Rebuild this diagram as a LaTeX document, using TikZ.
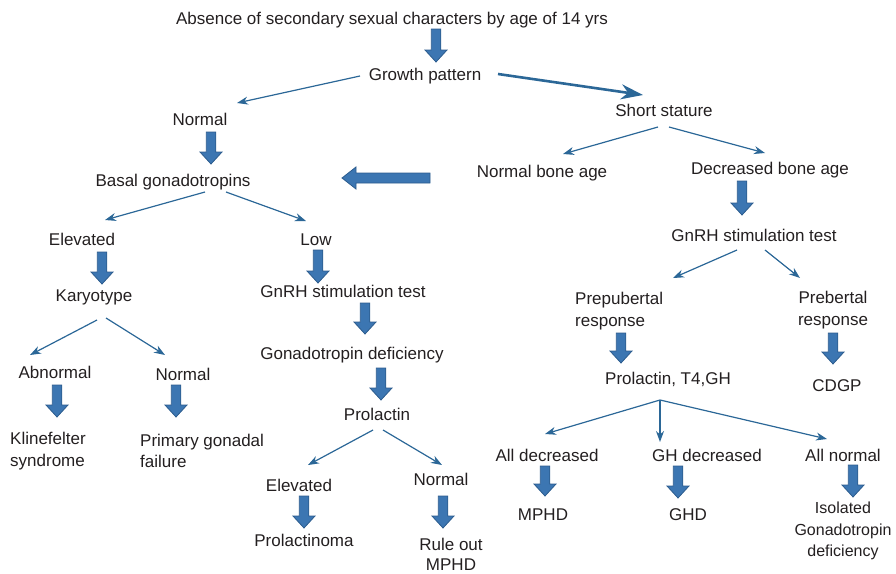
\documentclass[tikz,border=0pt]{standalone}
\usepackage{fontspec}
\setmainfont{Liberation Sans}
\usetikzlibrary{arrows.meta, calc}
\definecolor{flowblue}{HTML}{2B6797}
\definecolor{blockfill}{HTML}{3C76B2}
\definecolor{blockedge}{HTML}{2C5C8E}
\definecolor{inkgray}{HTML}{231F20}
\tikzset{
  txt/.style={text=inkgray, font=\fontsize{17}{21}\selectfont, inner sep=2pt, text height=12.5pt, text depth=3.6pt},
  txtlines/.style={text=inkgray, font=\fontsize{17}{21.5}\selectfont, inner sep=2pt},
  wire/.style={-{Stealth[length=11pt, width=8pt, inset=3.5pt]}, line width=1.2pt, flowblue},
  bigwire/.style={-{Stealth[length=22pt, width=15pt, inset=7pt]}, line width=2.6pt, flowblue},
  blockarrow/.style={fill=blockfill, draw=blockedge, line width=0.8pt},
  pics/downblock/.style={code={
    \filldraw[blockarrow] (-4.75,0) -- (-4.75,#1-12) -- (-11,#1-12) -- (0,#1)
      -- (11,#1-12) -- (4.75,#1-12) -- (4.75,0) -- cycle;}}
}

\begin{document}
\begin{tikzpicture}[x=1pt, y=-1pt]
  \useasboundingbox (0,0) rectangle (896,573);
  % top of the chart
  \node[txt] (title)  at (392, 20) {Absence of secondary sexual characters by age of 14 yrs};
  \node[txt] (growth) at (425, 76) {Growth pattern};
  \node[txt] (normalL) at (200,121) {Normal};
  \node[txt] (short)  at (664,112) {Short stature};
  % left branch
  \node[txt] (basal)  at (173,182) {Basal gonadotropins};
  \node[txt] (elevL)  at ( 82,241) {Elevated};
  \node[txt] (low)    at (316,241) {Low};
  \node[txt] (karyo)  at ( 94,297) {Karyotype};
  \node[txt] (gnrhL)  at (343,293) {GnRH stimulation test};
  \node[txt] (abn)    at ( 55,374) {Abnormal};
  \node[txt] (normK)  at (183,376) {Normal};
  \node[txtlines, align=left, anchor=west] (kline)   at (  8,451) {Klinefelter\\syndrome};
  \node[txtlines, align=left, anchor=west] (primary) at (138,451) {Primary gonadal\\failure};
  \node[txt] (gonad)  at (352,355) {Gonadotropin deficiency};
  \node[txt] (prl)    at (377,416) {Prolactin};
  \node[txt] (elev2)  at (299,487) {Elevated};
  \node[txt] (norm2)  at (441,481) {Normal};
  \node[txt] (prlnoma) at (304,542) {Prolactinoma};
  \node[txtlines, align=center, font=\fontsize{17}{20}\selectfont] (ruleout) at (451,554) {Rule out\\MPHD};
  % right branch
  \node[txt] (nba)    at (542,173) {Normal bone age};
  \node[txt] (dba)    at (770,170) {Decreased bone age};
  \node[txt] (gnrhR)  at (754,237) {GnRH stimulation test};
  \node[txtlines, align=left, anchor=west] (prep) at (573,311) {Prepubertal\\response};
  \node[txtlines, align=center] (preb) at (833,310) {Prebertal\\response};
  \node[txt] (ptg)    at (668,380) {Prolactin, T4,GH};
  \node[txt] (cdgp)   at (837,387) {CDGP};
  \node[txt] (alldec) at (547,457) {All decreased};
  \node[txt] (ghdec)  at (707,457) {GH decreased};
  \node[txt] (allnorm) at (843,457) {All normal};
  \node[txt] (mphd)   at (543,516) {MPHD};
  \node[txt] (ghd)    at (688,516) {GHD};
  \node[txtlines, align=center, font=\fontsize{16}{21.5}\selectfont] (isol) at (843,531) {Isolated\\Gonadotropin\\deficiency};
  \coordinate (ptgfork) at ($(ptg)+(-8,20)$);

  % thin connectors
  \draw[wire] ($(growth)+(-65,0)$) -- ($(normalL)+(37,-18)$);
  \draw[bigwire] ($(growth)+(73,-2)$) -- ($(short)+(-21,-17)$);
  \draw[wire] ($(short)+(-6,15)$) -- ($(nba)+(21,-19)$);
  \draw[wire] ($(short)+(5,15)$) -- ($(dba)+(-5,-17)$);
  \draw[wire] ($(basal)+(32,10)$) -- ($(elevL)+(23,-21)$);
  \draw[wire] ($(basal)+(53,10)$) -- ($(low)+(-10,-20)$);
  \draw[wire] ($(karyo)+(3,23)$) -- ($(abn)+(-25,-19)$);
  \draw[wire] ($(karyo)+(12,21)$) -- ($(normK)+(-18,-21)$);
  \draw[wire] ($(prl)+(-4,14)$) -- ($(elev2)+(9,-22)$);
  \draw[wire] ($(prl)+(6,14)$) -- ($(norm2)+(1,-16)$);
  \draw[wire] ($(gnrhR)+(-17,13)$) -- ($(prep.west)+(100,-33)$);
  \draw[wire] ($(gnrhR)+(11,13)$) -- ($(preb)+(-33,-32)$);
  \draw[wire] (ptgfork) -- ($(alldec)+(-2,-23)$);
  \draw[wire] (ptgfork) -- ($(ghdec)+(-47,-15)$);
  \draw[wire] (ptgfork) -- ($(allnorm)+(-16,-18)$);

  % block arrows
  \pic at (436, 29) {downblock=33};
  \pic at (211,132) {downblock=32};
  \pic at (102,252) {downblock=32};
  \pic at (318,250) {downblock=33};
  \pic at (365,303) {downblock=31};
  \pic at (381,368) {downblock=32};
  \pic at ( 57,385) {downblock=32};
  \pic at (176,385) {downblock=32};
  \pic at (304,496) {downblock=32};
  \pic at (443,496) {downblock=32};
  \pic at (742,181) {downblock=34};
  \pic at (621,333) {downblock=30};
  \pic at (833,333) {downblock=31};
  \pic at (545,466) {downblock=30};
  \pic at (678,466) {downblock=32};
  \pic at (853,465) {downblock=32};
  \filldraw[blockarrow] (430,173) -- (356,173) -- (356,167) -- (342,178)
    -- (356,189) -- (356,183) -- (430,183) -- cycle;
\end{tikzpicture}
\end{document}
